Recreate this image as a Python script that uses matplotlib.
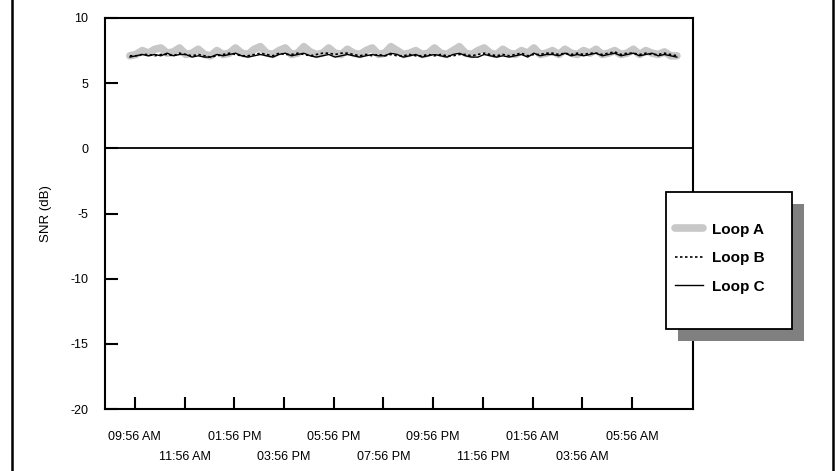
import matplotlib
matplotlib.use("Agg")
import matplotlib.pyplot as plt
from matplotlib.lines import Line2D
from matplotlib.patches import Rectangle

plt.rcParams['font.family'] = ['Liberation Sans', 'DejaVu Sans']
plt.rcParams['axes.unicode_minus'] = False

# hours after 09:56 AM, one sample every 15 minutes
start_hour = -0.2
step_hour = 0.25

loop_a = [
    7.1, 7.2, 7.5, 7.3, 7.6, 7.7, 7.3, 7.4, 7.7, 7.2, 7.3, 7.6,
    7.2, 7.1, 7.5, 7.2, 7.3, 7.7, 7.3, 7.2, 7.6, 7.8, 7.3, 7.2,
    7.5, 7.7, 7.2, 7.3, 7.8, 7.4, 7.2, 7.3, 7.7, 7.3, 7.2, 7.6,
    7.3, 7.2, 7.5, 7.7, 7.2, 7.3, 7.8, 7.5, 7.2, 7.3, 7.5, 7.2,
    7.3, 7.7, 7.3, 7.2, 7.5, 7.8, 7.3, 7.2, 7.5, 7.7, 7.3, 7.2,
    7.6, 7.3, 7.2, 7.5, 7.3, 7.7, 7.2, 7.3, 7.5, 7.2, 7.6, 7.3,
    7.2, 7.5, 7.3, 7.6, 7.2, 7.3, 7.5, 7.2, 7.3, 7.6, 7.2, 7.5,
    7.3, 7.2, 7.4, 7.1, 7.1,
]
loop_b = [
    7.1, 7.1, 7.2, 7.2, 7.1, 7.2, 7.2, 7.1, 7.3, 7.2, 7.1, 7.2,
    7.1, 7.0, 7.1, 7.2, 7.3, 7.2, 7.1, 7.1, 7.2, 7.3, 7.2, 7.1,
    7.3, 7.2, 7.2, 7.3, 7.2, 7.1, 7.2, 7.3, 7.3, 7.2, 7.3, 7.3,
    7.2, 7.1, 7.2, 7.1, 7.2, 7.1, 7.2, 7.1, 7.1, 7.2, 7.1, 7.1,
    7.2, 7.1, 7.2, 7.1, 7.1, 7.2, 7.2, 7.1, 7.2, 7.3, 7.2, 7.1,
    7.2, 7.1, 7.2, 7.3, 7.1, 7.2, 7.2, 7.3, 7.3, 7.2, 7.3, 7.2,
    7.3, 7.2, 7.3, 7.3, 7.2, 7.3, 7.4, 7.2, 7.3, 7.3, 7.2, 7.3,
    7.2, 7.2, 7.3, 7.2, 7.1,
]
loop_c = [
    7.0, 7.1, 7.2, 7.1, 7.2, 7.1, 7.3, 7.1, 7.2, 7.2, 7.0, 7.1,
    7.0, 7.0, 7.2, 7.1, 7.2, 7.3, 7.1, 7.0, 7.1, 7.2, 7.1, 7.0,
    7.2, 7.3, 7.1, 7.2, 7.3, 7.1, 7.0, 7.1, 7.2, 7.0, 7.1, 7.2,
    7.1, 7.0, 7.1, 7.2, 7.1, 7.1, 7.3, 7.2, 7.0, 7.1, 7.2, 7.0,
    7.1, 7.2, 7.1, 7.0, 7.2, 7.3, 7.1, 7.0, 7.0, 7.2, 7.1, 7.0,
    7.1, 7.0, 7.1, 7.2, 7.0, 7.3, 7.1, 7.2, 7.2, 7.1, 7.3, 7.1,
    7.2, 7.1, 7.2, 7.3, 7.1, 7.2, 7.3, 7.1, 7.2, 7.3, 7.1, 7.2,
    7.3, 7.1, 7.2, 7.1, 7.0,
]

tick_hours = [0, 2, 4, 6, 8, 10, 12, 14, 16, 18, 20]
tick_labels = ['09:56 AM', '11:56 AM', '01:56 PM', '03:56 PM', '05:56 PM',
               '07:56 PM', '09:56 PM', '11:56 PM', '01:56 AM', '03:56 AM',
               '05:56 AM']
y_ticks = [-20, -15, -10, -5, 0, 5, 10]

hours = [start_hour + i * step_hour for i in range(len(loop_a))]

fig = plt.figure(figsize=(8.36, 4.71), dpi=100)
ax = fig.add_axes([0.1256, 0.1316, 0.7034, 0.8302])

ax.axhline(0, color='black', lw=1.3, zorder=1)
ax.plot(hours, loop_a, color='#c8c8c8', lw=5.5, solid_capstyle='round',
        solid_joinstyle='round', label='Loop A', zorder=2)
ax.plot(hours, loop_b, color='black', lw=1.2, ls=(0, (1.5, 1.5)),
        label='Loop B', zorder=3)
ax.plot(hours, loop_c, color='black', lw=1.0, label='Loop C', zorder=4)

ax.set_xlim(-1.2, 22.45)
ax.set_ylim(-20, 10)
ax.set_yticks(y_ticks)
ax.set_xticks(tick_hours)
ax.set_xticklabels([lab if i % 2 == 0 else '\n' + lab
                    for i, lab in enumerate(tick_labels)])
for t in ax.get_xticklabels():
    t.set_linespacing(1.85)

ax.tick_params(direction='in', length=9, width=1.5, labelsize=9,
               colors='black')
ax.tick_params(axis='x', pad=16)
ax.tick_params(axis='y', pad=12)
for s in ax.spines.values():
    s.set_linewidth(1.5)

ax.set_ylabel('SNR (dB)', fontsize=9.5, labelpad=13)

# legend box with drop shadow
bx, by, bw, bh = 0.7967, 0.3015, 0.1507, 0.2909
dx, dy = 0.01435, 0.02548
fig.patches.append(Rectangle((bx + dx, by - dy), bw, bh, transform=fig.transFigure,
                             facecolor='#808080', edgecolor='none', zorder=5))
fig.patches.append(Rectangle((bx, by), bw, bh, transform=fig.transFigure,
                             facecolor='white', edgecolor='black', lw=1.3, zorder=6))
handles, labels = ax.get_legend_handles_labels()
leg = fig.legend(handles, labels, loc='upper left', bbox_to_anchor=(0.808, 0.527),
                 frameon=False, prop={'weight': 'bold', 'size': 11},
                 borderpad=0, borderaxespad=0, handlelength=1.8,
                 handletextpad=0.6, labelspacing=0.95)
leg.set_zorder(7)

# page border lines
fig.add_artist(Line2D([0.0145, 0.0145], [0, 1], color='black', lw=1.8))
fig.add_artist(Line2D([0.996, 0.996], [0, 1], color='black', lw=1.8))

fig.savefig('out.png', dpi=100)
